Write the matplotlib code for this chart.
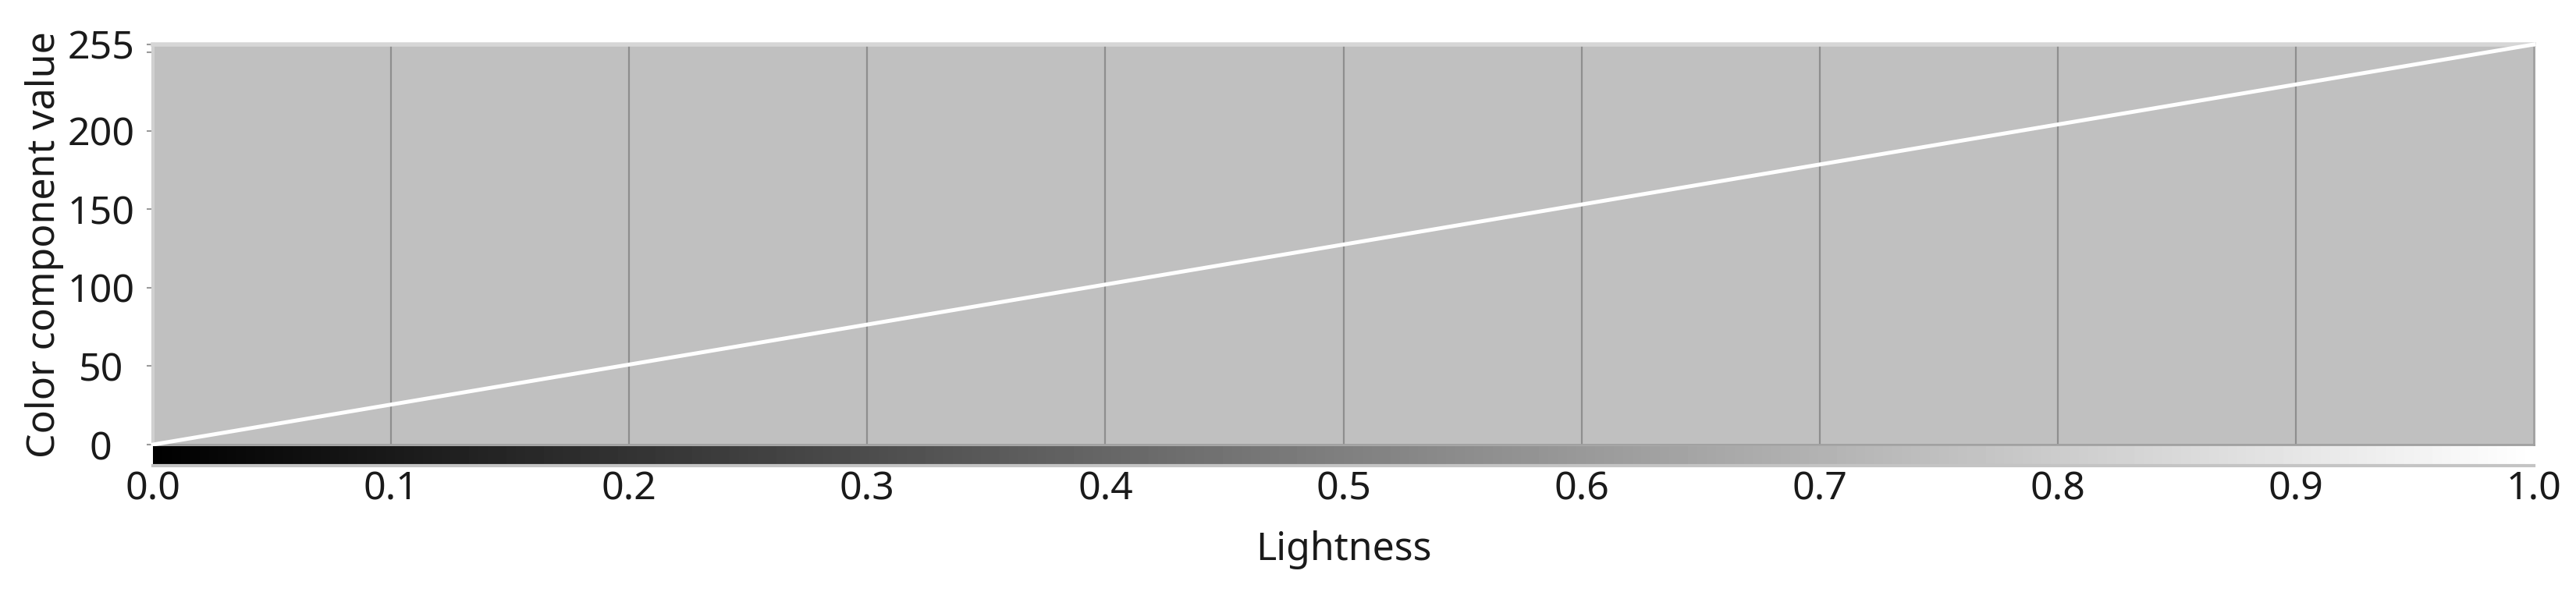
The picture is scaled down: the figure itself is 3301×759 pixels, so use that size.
import numpy as np
import matplotlib.pyplot as plt

# data
lightness = [0.0, 1.0]
component = [0, 255]
x_ticks = [0.0, 0.1, 0.2, 0.3, 0.4, 0.5, 0.6, 0.7, 0.8, 0.9, 1.0]
x_labels = ['0.0', '0.1', '0.2', '0.3', '0.4', '0.5', '0.6', '0.7', '0.8', '0.9', '1.0']
y_ticks = [0, 50, 100, 150, 200, 250, 255]
y_labels = ['0', '50', '100', '150', '200', '', '255']

plt.rcParams['font.family'] = ['Noto Sans', 'DejaVu Sans']
W, H = 3301, 759
fig = plt.figure(figsize=(W / 100, H / 100), dpi=100)

left, right, top, bottom = 196, 3247, 57, 570
ax = fig.add_axes([left / W, (H - bottom) / H, (right - left) / W, (bottom - top) / H])
ax.set_facecolor('#c0c0c0')
ax.set_xlim(0, 1)
ax.set_ylim(0, 255)

# vertical grid lines
for xv in x_ticks[1:-1]:
    ax.axvline(xv, color='#8e8e8e', lw=1.6, zorder=1)

ax.plot(lightness, component, color='white', lw=3.6, zorder=3, clip_on=False)

ax.set_xticks([])
ax.set_yticks(y_ticks)
ax.set_yticklabels(y_labels, fontsize=36, color='#1a1a1a', ha='center')
ax.tick_params(axis='y', length=6, width=1.5, color='#9a9a9a', pad=42)
ax.set_ylabel('Color component value', fontsize=36, color='#1a1a1a', labelpad=3)

ax.spines['top'].set_color('#d6d6d6')
ax.spines['top'].set_linewidth(4)
ax.spines['left'].set_color('#d0d0d0')
ax.spines['left'].set_linewidth(3)
ax.spines['right'].set_color('#a0a0a0')
ax.spines['right'].set_linewidth(2)
ax.spines['bottom'].set_color('#a0a0a0')
ax.spines['bottom'].set_linewidth(2)

# lightness gradient bar under the plot
bar_top, bar_bottom = 572, 597
bx = fig.add_axes([left / W, (H - bar_bottom) / H, (right - left) / W, (bar_bottom - bar_top) / H])
grad = np.linspace(0, 1, 512).reshape(1, -1)
bx.imshow(grad, cmap='gray', aspect='auto', extent=[0, 1, 0, 1], vmin=0, vmax=1)
bx.set_xlim(0, 1)
bx.set_yticks([])
bx.set_xticks(x_ticks)
bx.set_xticklabels(x_labels, fontsize=36, color='#1a1a1a')
bx.tick_params(axis='x', length=0, pad=4)
for s in ['top', 'left', 'right']:
    bx.spines[s].set_visible(False)
bx.spines['bottom'].set_color('#c4c4c4')
bx.spines['bottom'].set_linewidth(3)
bx.set_xlabel('Lightness', fontsize=36, color='#1a1a1a', labelpad=20)

plt.savefig('out.png', dpi=100)
